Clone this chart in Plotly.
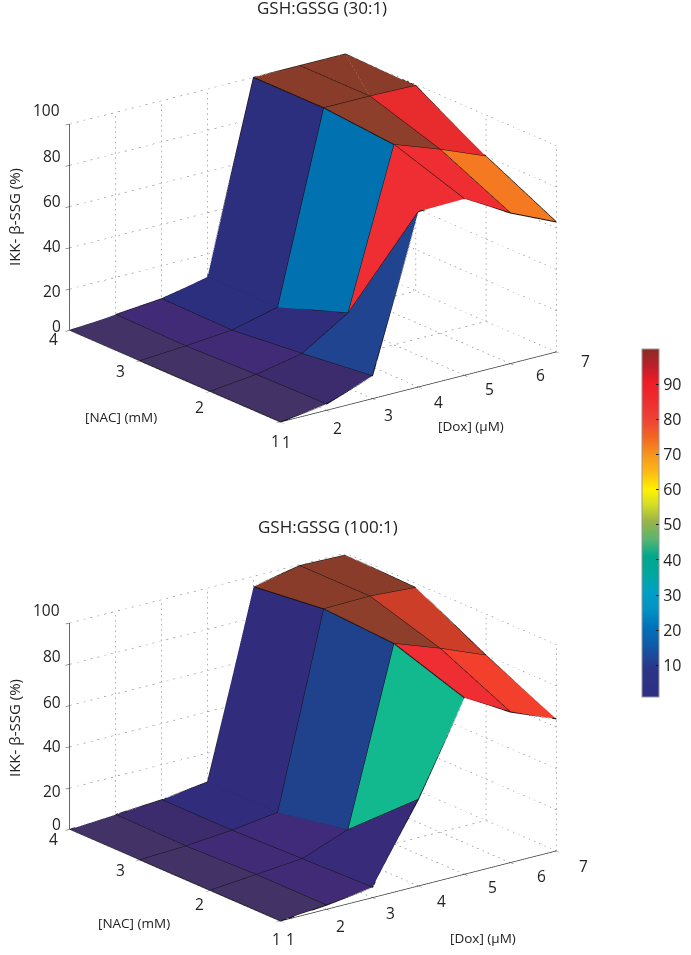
import math
import plotly.graph_objects as go

DOX = [1, 2, 3, 4, 5, 6, 7]
NAC = [1, 2, 3, 4]
Z_TICKS = [0, 20, 40, 60, 80, 100]
CB_TICKS = [10, 20, 30, 40, 50, 60, 70, 80, 90]

# rows = NAC 1..4, columns = Dox 1..7
Z_TOP = [
    [0, 3, 11, 85, 85.5, 73, 63],
    [0, 2.5, 7, 21, 97, 89, 80],
    [0, 1.5, 3.5, 9, 100, 100, 99.5],
    [0, 2, 4, 9, 100, 100, 100],
]
Z_BOT = [
    [0, 2, 5, 42, 85.5, 73, 64],
    [0, 2, 4, 12.5, 97, 89, 80],
    [0, 1, 3, 6, 99, 99.5, 98],
    [0, 1.5, 3, 6, 95, 99.5, 99],
]
# colour value of every cell: rows = NAC intervals, columns = Dox intervals
C_TOP = [
    [0, 2, 11, 85, 85, 73],
    [0, 3, 7, 21, 97, 88],
    [0, 3, 9, 9, 100, 100],
]
C_BOT = [
    [0, 3, 5, 42, 85, 78],
    [0, 3, 4, 12.5, 97, 93],
    [0, 2, 6, 6, 100, 100],
]

SURF_SCALE = [
    [0, "#423265"], [2, "#3c2c6e"], [3, "#432a78"], [6, "#312d7c"], [9, "#2c2e7e"],
    [11, "#1f4690"], [12.5, "#20418c"], [21, "#0072b0"], [30, "#00a0c6"], [42, "#12b88e"],
    [50, "#9ab447"], [60, "#fff200"], [66, "#fdb913"], [73, "#f47b20"], [78, "#f2402c"],
    [85, "#ee2e33"], [88, "#ea2a2e"], [93, "#cf3e28"], [97, "#8f3f2b"], [100, "#8a3c2a"],
]
BAR_SCALE = [
    [1, "#2e3082"], [9, "#2b3488"], [13, "#1c4a9c"], [16, "#0f5ca8"], [21, "#0072bc"],
    [26, "#0093c4"], [31, "#00a0c6"], [36, "#00a79d"], [41, "#00a78e"], [46, "#5bb56f"],
    [51, "#9ab447"], [56, "#d7df23"], [60, "#fff200"], [65, "#fdb913"], [70, "#f7941e"],
    [75, "#f26522"], [80, "#ef4136"], [85, "#ed2e2f"], [91, "#ed1c24"], [95, "#be1e2d"],
    [100, "#8b2c22"],
]

# label offsets in pixels from the tick position on the axis
DOX_SHIFT_TOP = [(6, 21), (11, 18), (16, 17), (20, 16), (25, 14), (30, 12), (29, 10)]
DOX_SHIFT_BOT = [(10, 18), (14, 17), (18, 15), (23, 15), (28, 13), (31, 13), (27, 15)]
NAC_SHIFT_TOP = [(-5, 20), (-11, 16), (-19, 11), (-16, 9)]
NAC_SHIFT_BOT = [(-4, 18), (-11, 14), (-19, 10), (-16, 10)]
Z_SHIFT_TOP = [(-13, -4), (-18, 2), (-18, -1), (-18, -5), (-18, -9), (-23, -14)]
Z_SHIFT_BOT = [(-13, -5), (-18, 3), (-18, -1), (-18, -4), (-18, -8), (-23, -13)]


def norm(scale, lo, hi):
    return [[(v - lo) / (hi - lo), c] for v, c in scale]


def surface(z, c, scene):
    vx, vy, vz = [], [], []
    for r, n in enumerate(NAC):
        for k, d in enumerate(DOX):
            vx.append(d); vy.append(n); vz.append(z[r][k])
    nc = len(DOX)
    I, J, K, val = [], [], [], []
    for r in range(len(NAC) - 1):
        for k in range(nc - 1):
            a = r * nc + k
            b = a + 1
            e = a + nc
            f = e + 1
            I += [a, a]; J += [b, f]; K += [f, e]
            val += [c[r][k], c[r][k]]
    return go.Mesh3d(
        x=vx, y=vy, z=vz, i=I, j=J, k=K, intensity=val, intensitymode="cell",
        colorscale=norm(SURF_SCALE, 0, 100), cmin=0, cmax=100, showscale=False,
        flatshading=True, hoverinfo="skip", scene=scene,
        lighting=dict(ambient=1, diffuse=0, specular=0, roughness=1, fresnel=0),
    )


def edges(z, scene):
    lx, ly, lz = [], [], []
    for r, n in enumerate(NAC):
        for k, d in enumerate(DOX):
            lx.append(d); ly.append(n); lz.append(z[r][k])
        lx.append(None); ly.append(None); lz.append(None)
    for k, d in enumerate(DOX):
        for r, n in enumerate(NAC):
            lx.append(d); ly.append(n); lz.append(z[r][k])
        lx.append(None); ly.append(None); lz.append(None)
    return go.Scatter3d(x=lx, y=ly, z=lz, mode="lines", line=dict(color="#111111", width=2),
                        hoverinfo="skip", showlegend=False, scene=scene)


def grid(scene):
    lx, ly, lz = [], [], []
    DOTS = 40
    def seg(p, q):
        for s in range(DOTS):
            t0 = s / DOTS
            t1 = t0 + 0.3 / DOTS
            lx.extend([p[0] + (q[0] - p[0]) * t0, p[0] + (q[0] - p[0]) * t1, None])
            ly.extend([p[1] + (q[1] - p[1]) * t0, p[1] + (q[1] - p[1]) * t1, None])
            lz.extend([p[2] + (q[2] - p[2]) * t0, p[2] + (q[2] - p[2]) * t1, None])
    xa, xb, ya, yb, za, zb = DOX[0], DOX[-1], NAC[0], NAC[-1], Z_TICKS[0], Z_TICKS[-1]
    for t in Z_TICKS:
        seg((xa, yb, t), (xb, yb, t))
        seg((xb, ya, t), (xb, yb, t))
    for d in DOX:
        seg((d, yb, za), (d, yb, zb))
        seg((d, ya, za), (d, yb, za))
    for n in NAC:
        seg((xb, n, za), (xb, n, zb))
        seg((xa, n, za), (xb, n, za))
    return go.Scatter3d(x=lx, y=ly, z=lz, mode="lines",
                        line=dict(color="#808080", width=1.2),
                        hoverinfo="skip", showlegend=False, scene=scene)


W, H = 691, 955
ELEV = math.radians(19.4)
A, B = 0.6073, 0.7945
DIST = 4
ZOOM = 1.6
eye = dict(x=-A * math.cos(ELEV) * DIST, y=-B * math.cos(ELEV) * DIST, z=math.sin(ELEV) * DIST)
TICK_FONT = dict(family="Open Sans", size=15.5, color="#222222")


def axis(tickvals, rng):
    return dict(
        range=rng, tickvals=tickvals, title=dict(text=""), showticklabels=False,
        showgrid=False, zeroline=False, showbackground=False, showspikes=False,
        showline=True, linecolor="#333333", linewidth=1.5, ticks="outside", ticklen=5,
        tickcolor="#333333", tickwidth=1,
    )


def tick_notes(dox_shift, nac_shift, z_shift):
    out = []
    def add(x, y, z, text, shift):
        out.append(dict(x=x, y=y, z=z, text=text, showarrow=False, font=TICK_FONT,
                        xanchor="center", yanchor="middle", xshift=shift[0], yshift=-shift[1]))
    inset = 1e-3  # stays just inside the axis range, where scene annotations are drawn
    for d, s in zip(DOX, dox_shift):
        add(min(d, DOX[-1] - inset), NAC[0], Z_TICKS[0], str(d), s)
    for n, s in zip(NAC, nac_shift):
        add(DOX[0], n, Z_TICKS[0], str(n), s)
    for t, s in zip(Z_TICKS, z_shift):
        add(DOX[0], NAC[-1], t, str(t), s)
    return out


def scene(y0, y1, notes):
    return dict(
        domain=dict(x=[0, 626 / W], y=[1 - y1 / H, 1 - y0 / H]),
        xaxis=axis(DOX, [DOX[0], DOX[-1]]),
        yaxis=axis(NAC, [NAC[0], NAC[-1]]),
        zaxis=axis(Z_TICKS, [Z_TICKS[0], Z_TICKS[-1]]),
        aspectmode="manual", aspectratio=dict(x=ZOOM, y=ZOOM, z=0.63 * ZOOM),
        camera=dict(eye=eye, up=dict(x=0, y=0, z=1), center=dict(x=0, y=0, z=0),
                    projection=dict(type="orthographic")),
        annotations=notes,
    )


fig = go.Figure()
fig.add_trace(grid("scene"))
fig.add_trace(surface(Z_TOP, C_TOP, "scene"))
fig.add_trace(edges(Z_TOP, "scene"))
fig.add_trace(grid("scene2"))
fig.add_trace(surface(Z_BOT, C_BOT, "scene2"))
fig.add_trace(edges(Z_BOT, "scene2"))
fig.add_trace(go.Scatter(
    x=[None, None], y=[None, None], mode="markers", hoverinfo="skip", showlegend=False,
    marker=dict(
        color=[1, 100], cmin=1, cmax=100, colorscale=norm(BAR_SCALE, 1, 100), showscale=True,
        colorbar=dict(
            x=642 / W, xanchor="left", y=1 - 523 / H, yanchor="middle",
            lenmode="pixels", len=348, thicknessmode="pixels", thickness=17,
            tickvals=CB_TICKS, ticks="inside", ticklen=3, tickcolor="#111111",
            tickprefix="\u00a0", outlinecolor="#999999", outlinewidth=1, xpad=0, ypad=0,
            tickfont=dict(family="Open Sans", size=16, color="#222222"),
        ),
    ),
))

TITLE_FONT = dict(family="Open Sans", size=17, color="#222222")
LABEL_FONT = dict(family="Open Sans", size=13.5, color="#222222")
ZLAB_FONT = dict(family="Open Sans", size=15, color="#222222")


def note(text, px, py, font, angle=0):
    return dict(text=text, x=px / W, y=1 - py / H, xref="paper", yref="paper",
                showarrow=False, xanchor="center", yanchor="middle", font=font, textangle=angle)


fig.update_layout(
    width=W, height=H, margin=dict(l=0, r=0, t=0, b=0), autosize=False,
    paper_bgcolor="white", plot_bgcolor="white", showlegend=False,
    xaxis=dict(visible=False, domain=[0.99, 1]), yaxis=dict(visible=False, domain=[0.99, 1]),
    scene=scene(20.5, 454.5, tick_notes(DOX_SHIFT_TOP, NAC_SHIFT_TOP, Z_SHIFT_TOP)),
    scene2=scene(520, 954, tick_notes(DOX_SHIFT_BOT, NAC_SHIFT_BOT, Z_SHIFT_BOT)),
    annotations=[
        note("GSH:GSSG (30:1)", 322, 8, TITLE_FONT),
        note("GSH:GSSG (100:1)", 328, 526, TITLE_FONT),
        note("IKK- β-SSG (%)", 14, 217, ZLAB_FONT, -90),
        note("IKK- β-SSG (%)", 14, 728, ZLAB_FONT, -90),
        note("[NAC] (mM)", 121, 417, LABEL_FONT),
        note("[NAC] (mM)", 134, 923, LABEL_FONT),
        note("[Dox] (μM)", 471, 426, LABEL_FONT),
        note("[Dox] (μM)", 483, 938, LABEL_FONT),
    ],
)
fig.write_html("out.html", config={"displayModeBar": False},
               post_script="document.body.style.margin='0';")
